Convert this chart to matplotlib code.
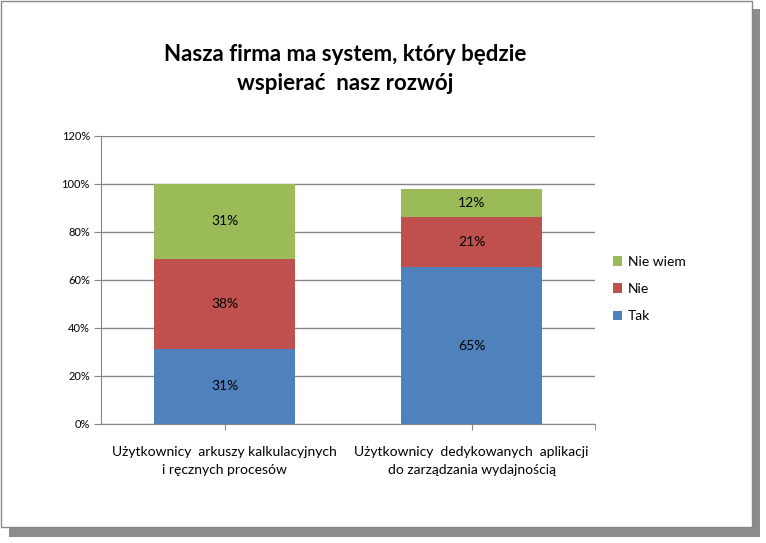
import matplotlib
matplotlib.use("Agg")
import matplotlib.pyplot as plt
from matplotlib.patches import Rectangle
import numpy as np

plt.rcParams['font.family'] = ['Lato', 'DejaVu Sans']

categories = ["Użytkownicy  arkuszy kalkulacyjnych\ni ręcznych procesów",
              "Użytkownicy  dedykowanych  aplikacji\ndo zarządzania wydajnością"]
series = ["Tak", "Nie", "Nie wiem"]
tak = [31.3, 65.4]
nie = [37.6, 20.8]
nie_wiem = [31.1, 11.6]
colors = ["#4f81bd", "#c0504d", "#9bbb59"]
yticks = [0, 20, 40, 60, 80, 100, 120]

fig = plt.figure(figsize=(7.66, 5.43), dpi=100)
W, H = 766, 543

# shadow + chart frame
fig.patches.append(Rectangle((9 / W, 1 - 537 / H), 751 / W, 528 / H, transform=fig.transFigure,
                             facecolor="#8c8c8c", edgecolor="none", zorder=0))
fig.patches.append(Rectangle((1 / W, 1 - 527 / H), 751 / W, 526 / H, transform=fig.transFigure,
                             facecolor="white", edgecolor="#888888", linewidth=1, zorder=1))

ax = fig.add_axes([101 / W, 1 - 424 / H, 494 / W, 288 / H])
ax.set_zorder(2)
ax.patch.set_alpha(0)

x = np.arange(len(categories))
bottom = np.zeros(len(categories))
handles = []
for name, vals, c in zip(series, [tak, nie, nie_wiem], colors):
    bars = ax.bar(x, vals, width=0.567, bottom=bottom, color=c, zorder=3, label=name)
    for xi, b, v in zip(x, bottom, vals):
        ax.text(xi, b + v / 2, f"{round(v):.0f}%", ha="center", va="center", fontsize=10, zorder=4)
    bottom += np.array(vals)
    handles.append(bars)

ax.set_xlim(-0.5, 1.5)
ax.set_ylim(0, 120)
ax.set_yticks(yticks)
ax.set_yticklabels([f"{t}%" for t in yticks], fontsize=8)
ax.yaxis.grid(True, color="#868686", linewidth=1)
ax.set_axisbelow(True)
ax.set_xticks([1.5], minor=True)
ax.set_xticks(x)
ax.set_xticklabels(categories, fontsize=10, linespacing=1.55)
ax.tick_params(axis="x", which="both", length=4, direction="out", color="#868686", pad=12)
ax.tick_params(axis="y", length=5, color="#868686", pad=3)
for s in ["top", "right"]:
    ax.spines[s].set_visible(False)
for s in ["left", "bottom"]:
    ax.spines[s].set_color("#868686")

fig.text(345 / W, 1 - 69 / H, "Nasza firma ma system, który będzie\nwspierać  nasz rozwój",
         ha="center", va="center", fontsize=16, fontweight="bold", linespacing=1.45, zorder=5)

leg = fig.legend(handles[::-1], series[::-1], loc="center left", bbox_to_anchor=(600 / W, 1 - 289 / H),
                 frameon=False, fontsize=10, handlelength=0.7, handleheight=0.7,
                 handletextpad=0.4, labelspacing=1.1)
leg.set_zorder(5)

fig.savefig("out.png", dpi=100)
